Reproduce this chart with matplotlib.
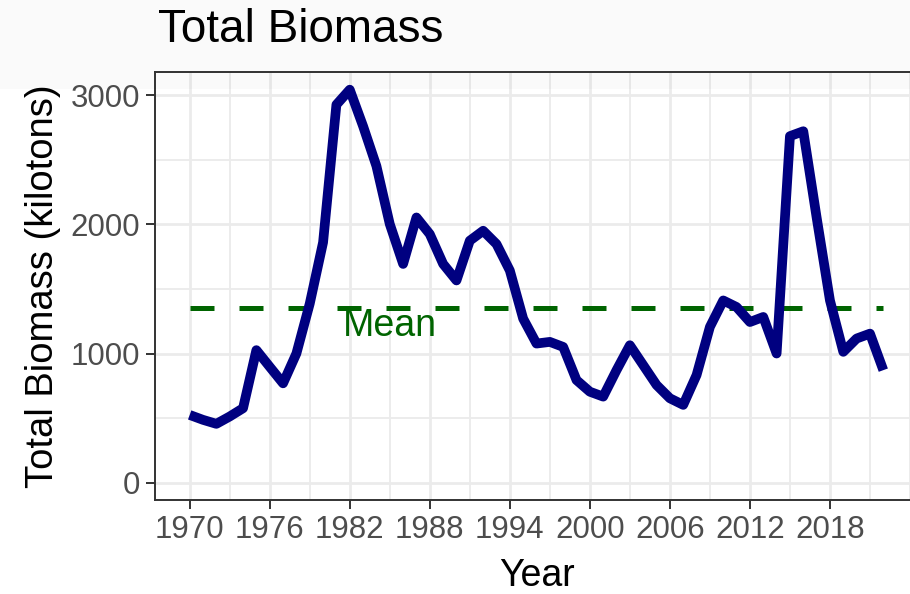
import numpy as np
import matplotlib
matplotlib.use("Agg")
from matplotlib import pyplot as plt
from matplotlib.ticker import MultipleLocator, FixedLocator
from matplotlib.patches import Rectangle

# Data (kilotons)
years = list(range(1970, 2023))
biomass = [524, 486, 455, 512, 576, 1026, 897, 769, 1000, 1386,
           1861, 2928, 3044, 2761, 2452, 2003, 1694, 2054, 1925, 1694,
           1566, 1874, 1951, 1848, 1643, 1270, 1077, 1090, 1051, 794,
           704, 666, 871, 1064, 910, 756, 653, 602, 833, 1206,
           1411, 1360, 1244, 1283, 1000, 2684, 2722, 2054, 1411, 1013,
           1116, 1154, 871]
x_breaks = list(range(1970, 2023, 6))
x_minor = list(range(1967, 2025, 3))
y_breaks = [0, 1000, 2000, 3000]

plt.rcParams['font.family'] = ['Liberation Sans', 'DejaVu Sans']

fig = plt.figure(figsize=(9.1, 5.94), dpi=100)
ax = fig.add_axes([155 / 910, 1 - 500 / 594, 763 / 910, 428 / 594])

# grid like theme_bw
ax.set_axisbelow(True)
ax.xaxis.set_major_locator(FixedLocator(x_breaks))
ax.xaxis.set_minor_locator(FixedLocator(x_minor))
ax.yaxis.set_major_locator(FixedLocator(y_breaks))
ax.yaxis.set_minor_locator(MultipleLocator(500))
ax.grid(which='major', color='#ebebeb', linewidth=2.0)
ax.grid(which='minor', color='#ebebeb', linewidth=1.3)

# the series
ax.plot(years, biomass, color='navy', linewidth=7, solid_joinstyle='round',
        solid_capstyle='butt', zorder=3)

# mean line and label
mean_val = np.mean(biomass)
ax.plot([years[0], years[-1]], [mean_val, mean_val], color='#006400',
        linewidth=3.6, linestyle=(0, (4.8, 5.0)), dash_capstyle='butt', zorder=2)
ax.text(1985, 1210, "Mean", color='#006400', fontsize=27, ha='center', va='center')

ax.set_xlim(1967.4, 2024.6)
ax.set_ylim(-135, 3181)

for side in ax.spines.values():
    side.set_color('#333333')
    side.set_linewidth(1.4)

ax.tick_params(which='major', length=6.5, width=1.4, color='#333333',
               labelsize=22.5, labelcolor='#4d4d4d', pad=4)
ax.tick_params(which='minor', length=0)

ax.set_xlabel("Year", fontsize=27, labelpad=10)
ax.set_ylabel("Total Biomass (kilotons)", fontsize=27.5, labelpad=7)

fig.text(158 / 910, 1 - 42 / 594, "Total Biomass", fontsize=33, ha='left', va='baseline')

# faint grey band at the top of the picture
fig.patches.append(Rectangle((0, 1 - 89 / 594), 1, 89 / 594, transform=fig.transFigure,
                             facecolor='black', alpha=0.02, edgecolor='none', zorder=10))

fig.savefig("out.png", dpi=100)
